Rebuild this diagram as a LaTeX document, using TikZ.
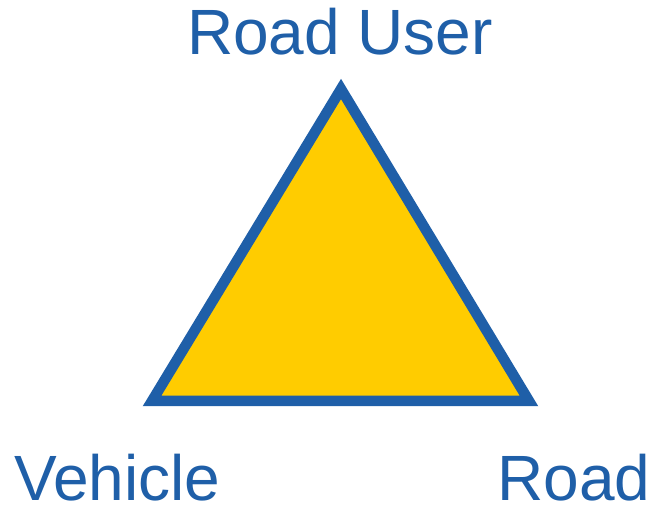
\documentclass[tikz,border=0pt]{standalone}
\usepackage{fontspec}
\setmainfont{Liberation Sans}
\definecolor{tblue}{RGB}{31,95,168}
\definecolor{tyellow}{RGB}{255,204,0}
\tikzset{
  label text/.style={text=tblue, inner sep=0pt, font=\fontsize{64}{70}\selectfont},
  tri/.style={draw=tblue, fill=tyellow, line width=10.5pt, line join=miter}
}
\begin{document}
\begin{tikzpicture}[x=1pt,y=1pt]
\useasboundingbox (0,0) rectangle (654,504);
\coordinate (apex) at (341,415);
\coordinate (bl) at (152,103);
\coordinate (br) at (529,103);
\draw[tri] (apex) -- (bl) -- (br) -- cycle;
\node[label text, anchor=base] (user) at (340,449) {Road User};
\node[label text, anchor=base west] (veh) at (14,4) {Vehicle};
\node[label text, anchor=base east] (road) at (650.5,4) {Road};
\end{tikzpicture}
\end{document}
